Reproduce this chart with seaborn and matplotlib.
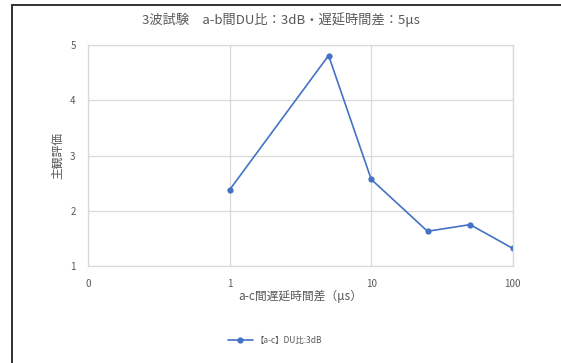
import numpy as np
import pandas as pd
import matplotlib
matplotlib.use("Agg")
import matplotlib.pyplot as plt
import seaborn as sns
from matplotlib.patches import Rectangle
from matplotlib.ticker import FixedLocator, FixedFormatter, NullLocator

# データ
delay_us = [1, 5, 10, 25, 50, 100]
score = [2.38, 4.81, 2.57, 1.63, 1.75, 1.32]
series_name = "【a-c】DU比:3dB"
x_ticks = [0.1, 1, 10, 100]
x_tick_labels = ["0", "1", "10", "100"]
y_ticks = [1, 2, 3, 4, 5]

sns.set_theme(style="white")
plt.rcParams["font.family"] = ["Noto Sans CJK JP", "DejaVu Sans"]

df = pd.DataFrame({"遅延": delay_us, "評価": score})

fig = plt.figure(figsize=(5.61, 3.63), dpi=100)
ax = fig.add_axes([0.157, 0.267, 0.757, 0.609])

line_col = "#4472C4"
grid_col = "#D9D9D9"
text_col = "#595959"

sns.lineplot(data=df, x="遅延", y="評価", ax=ax, color=line_col, marker="o",
             markersize=4.5, markeredgewidth=0, linewidth=1.2, label=series_name,
             legend=False)

ax.set_xscale("log")
ax.set_xlim(0.1, 100)
ax.set_ylim(1, 5)
ax.xaxis.set_major_locator(FixedLocator(x_ticks))
ax.xaxis.set_major_formatter(FixedFormatter(x_tick_labels))
ax.xaxis.set_minor_locator(NullLocator())
ax.set_yticks(y_ticks)
ax.grid(True, color=grid_col, linewidth=0.9)
ax.set_axisbelow(True)
for s in ax.spines.values():
    s.set_color(grid_col)
    s.set_linewidth(0.9)
ax.tick_params(axis="both", length=0, labelsize=7, colors=text_col, pad=9)

ax.set_xlabel("a-c間遅延時間差（μs）", fontsize=8.5, color=text_col, labelpad=1)
ax.set_ylabel("主観評価", fontsize=8.5, color=text_col, labelpad=4)
fig.text(0.5, 0.945, "3波試験　a-b間DU比：3dB・遅延時間差：5μs", fontsize=9.5,
         color=text_col, ha="center", va="center")

handles, labels = ax.get_legend_handles_labels()
fig.legend(handles, labels, loc="center", bbox_to_anchor=(0.49, 0.063),
           frameon=False, fontsize=6, labelcolor=text_col,
           handlelength=3, handletextpad=0.3)

# 外枠（左と上）
fig.add_artist(Rectangle((0.022, -0.01), 1.1, 0.997, transform=fig.transFigure,
                         fill=False, edgecolor="#222222", linewidth=1.3))

fig.savefig("out.png", dpi=100, facecolor="white")
